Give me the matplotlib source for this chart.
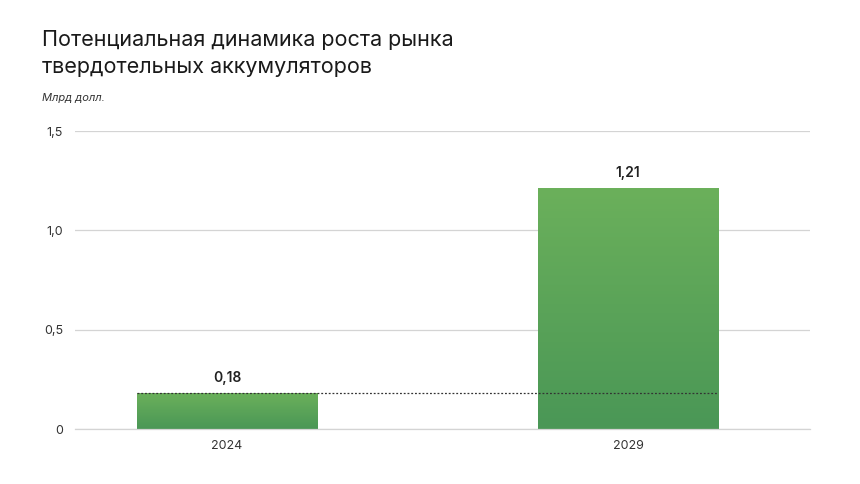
import matplotlib.pyplot as plt
import numpy as np
from matplotlib.colors import LinearSegmentedColormap

plt.rcParams["font.family"] = ["Inter", "DejaVu Sans"]

# Data
years = ["2024", "2029"]
values = [0.18, 1.21]
value_labels = ["0,18", "1,21"]
y_ticks = [0, 0.5, 1.0, 1.5]
y_tick_labels = ["0", "0,5", "1,0", "1,5"]

title = "Потенциальная динамика роста рынка\nтвердотельных аккумуляторов"
unit = "Млрд долл."

grad = LinearSegmentedColormap.from_list("bar", ["#4a9756", "#6bb05b"])

fig = plt.figure(figsize=(8.6, 4.84), dpi=100)
ax = fig.add_axes([0.0872, 0.1136, 0.8547, 0.6157])

x = np.arange(len(years))
width = 0.449
bars = ax.bar(x, values, width=width, color="none", zorder=2)

# gradient fill, lighter on top
for bar in bars:
    x0, y0 = bar.get_x(), bar.get_y()
    ax.imshow(
        np.linspace(0, 1, 100).reshape(-1, 1),
        cmap=grad,
        aspect="auto",
        origin="lower",
        extent=(x0, x0 + bar.get_width(), y0, y0 + bar.get_height()),
        zorder=2,
    )

for xi, v, lab in zip(x, values, value_labels):
    ax.annotate(lab, (xi, v), xytext=(0, 6), textcoords="offset points",
                ha="center", va="bottom", fontsize=10, fontweight="semibold",
                color="#222222")

# dotted reference line at the 2024 level
ax.plot([x[0] - width / 2, x[-1] + width / 2], [values[0], values[0]],
        linestyle=(0, (1.5, 1.5)), color="#333333", linewidth=0.9, zorder=3)

ax.set_xlim(-0.379, 1.454)
ax.set_ylim(0, 1.5)
ax.set_yticks(y_ticks)
ax.set_yticklabels(y_tick_labels)
ax.set_xticks(x)
ax.set_xticklabels(years)
ax.yaxis.grid(True, color="#d4d4d4", linewidth=0.9)
ax.set_axisbelow(True)
ax.tick_params(axis="both", length=0, labelsize=9, colors="#333333")
ax.tick_params(axis="y", pad=8.5)
ax.tick_params(axis="x", pad=8)
for s in ["top", "right", "left"]:
    ax.spines[s].set_visible(False)
ax.spines["bottom"].set_color("#d4d4d4")
ax.spines["bottom"].set_linewidth(0.9)

fig.text(42 / 860, 1 - 30 / 484, title, ha="left", va="top", fontsize=15.5,
         color="#1a1a1a", linespacing=1.45)
fig.text(42 / 860, 1 - 98 / 484, unit, ha="left", va="center", fontsize=8,
         style="italic", color="#333333")

fig.savefig("out.png", dpi=100)
